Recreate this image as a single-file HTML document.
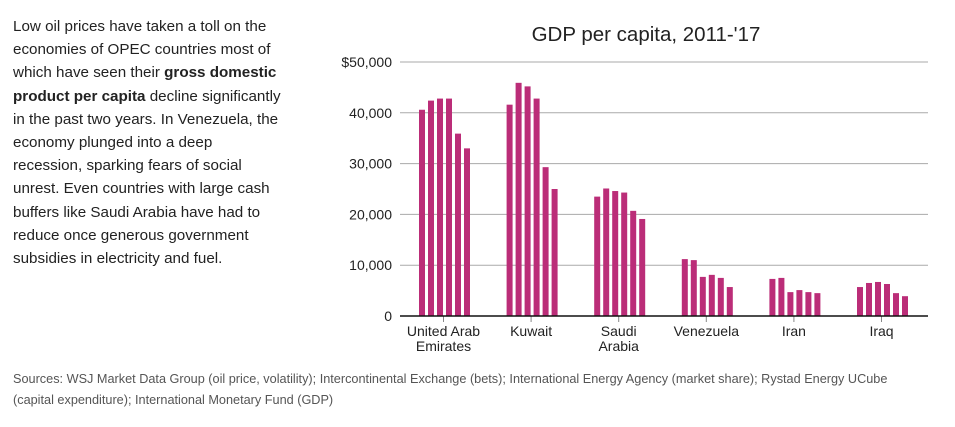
<!DOCTYPE html>
<html><head><meta charset="utf-8"><style>
body{margin:0;width:955px;height:427px;background:#fff;font-family:"Liberation Sans",sans-serif;position:relative;overflow:hidden;color:#222}
#intro{position:absolute;left:13px;top:15px;font-size:15.2px;line-height:23.2px;white-space:nowrap;color:#222}
#foot{position:absolute;left:13px;top:369px;font-size:12.7px;line-height:21px;color:#555}
svg{position:absolute;left:0;top:0}
</style></head><body>
<div id="intro">Low oil prices have taken a toll on the<br>economies of OPEC countries most of<br>which have seen their <b>gross domestic</b><br><b>product per capita</b> decline significantly<br>in the past two years. In Venezuela, the<br>economy plunged into a deep<br>recession, sparking fears of social<br>unrest. Even countries with large cash<br>buffers like Saudi Arabia have had to<br>reduce once generous government<br>subsidies in electricity and fuel.</div>
<svg id="chart" width="955" height="427"></svg>
<div id="foot">Sources: WSJ Market Data Group (oil price, volatility); Intercontinental Exchange (bets); International Energy Agency (market share); Rystad Energy UCube<br>(capital expenditure); International Monetary Fund (GDP)</div>
<script>
const categories=[["United Arab","Emirates"],["Kuwait"],["Saudi","Arabia"],["Venezuela"],["Iran"],["Iraq"]];
const uae=[40600,42400,42800,42800,35900,33000];
const kuwait=[41600,45900,45200,42800,29300,25000];
const saudi=[23500,25100,24600,24300,20700,19100];
const venezuela=[11200,11000,7700,8100,7500,5700];
const iran=[7300,7500,4700,5100,4700,4500];
const iraq=[5700,6500,6700,6300,4500,3900];
const series=[uae,kuwait,saudi,venezuela,iran,iraq];
const ticks=[0,10000,20000,30000,40000,50000];
const tickLabels=["0","10,000","20,000","30,000","40,000","$50,000"];
const NS="http://www.w3.org/2000/svg";
const svg=document.getElementById('chart');
const y0=316,yTop=62,x0=400,x1=928;
const y=v=>y0-(v/50000)*(y0-yTop);
const xc=i=>443.5+i*87.6;
function mk(t,a){const e=document.createElementNS(NS,t);for(const k in a)e.setAttribute(k,a[k]);svg.appendChild(e);return e;}
const title=mk('text',{x:646,y:41,'text-anchor':'middle','font-size':20.5,fill:'#222'});
title.textContent="GDP per capita, 2011-'17";


ticks.forEach((t,i)=>{
  if(i>0){const g=mk('line',{x1:x0,x2:x1,y1:y(t),y2:y(t),stroke:'#aaa','stroke-width':1});
  
  }
  const l=mk('text',{x:392,y:y(t)+5,'text-anchor':'end','font-size':14,fill:'#222'});
  l.textContent=tickLabels[i];
  
  
});
series.forEach((s,i)=>{
  s.forEach((v,j)=>{
    const b=mk('rect',{x:xc(i)-24.5+j*9,y:y(v),width:6,height:y0-y(v),fill:'#bb2d78'});
    
    
  });
  const tk=mk('line',{x1:xc(i),x2:xc(i),y1:y0,y2:y0+6,stroke:'#888'});
  
  
  categories[i].forEach((ln,k)=>{
    const t=mk('text',{x:xc(i),y:336+k*15,'text-anchor':'middle','font-size':14,fill:'#222'});
    t.textContent=ln;
    
    
  });
});
const ax=mk('line',{x1:x0,x2:x1,y1:y0,y2:y0,stroke:'#111','stroke-width':1.5});


</script>
</body></html>
